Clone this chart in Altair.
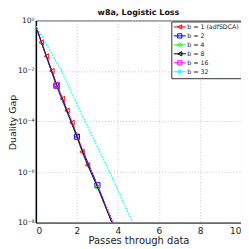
import altair as alt
import pandas as pd
import numpy as np

series = ["b = 1 (adfSDCA)", "b = 2", "b = 4", "b = 8", "b = 16", "b = 32"]
colors = ["#ff0000", "#0000ff", "#00ff00", "#000000", "#ff00ff", "#00ffff"]

# passes through data and log10(duality gap)
x_b1 = [0, 0.26, 0.52, 0.78, 1.04, 1.30, 1.52, 1.76, 2.00, 2.25, 2.52]
y_b1 = [-0.22, -0.87, -1.42, -2.00, -2.62, -3.10, -3.57, -4.05, -4.60, -5.20, -5.73]
x_b2 = [0, 1.0, 2.0, 3.0, 3.72]
y_b2 = [-0.22, -2.58, -4.6, -6.52, -8.0]
x_b4 = [0, 0.5, 1.0, 1.5, 2.0, 2.5, 3.0, 3.35, 3.72]
y_b4 = [-0.22, -1.42, -2.55, -3.55, -4.6, -5.7, -6.6, -7.3, -8.0]
x_b8 = [0, 0.5, 1.0, 1.5, 2.0, 2.5, 3.0, 3.35, 3.70]
y_b8 = [-0.22, -1.40, -2.52, -3.53, -4.58, -5.66, -6.58, -7.28, -8.0]
x_b16 = [0, 0.5, 1.03, 1.5, 2.0, 2.5, 3.0, 3.4, 3.77]
y_b16 = [-0.22, -1.37, -2.55, -3.47, -4.5, -5.6, -6.5, -7.3, -8.0]
x_b32 = [0, 1.25, 2.4, 3.6, 4.72]
y_b32 = [-0.22, -2.0, -4.0, -6.0, -8.0]

# which points carry a marker
m_b1 = list(range(1, 11))
m_b2 = [1, 2, 3]
m_b4 = [6]
m_b8 = []
m_b16 = [2]
m_b32 = []

xs = [x_b1, x_b2, x_b4, x_b8, x_b16, x_b32]
ys = [y_b1, y_b2, y_b4, y_b8, y_b16, y_b32]
ms = [m_b1, m_b2, m_b4, m_b8, m_b16, m_b32]
dashes = [None, None, None, None, [1.5, 1.5], [1.5, 1.5]]
widths = [1, 1, 1, 1, 1.2, 1.3]


def hexagram(cx, s):
    pts = []
    for k in range(12):
        a = np.pi / 2 + k * np.pi / 6
        r = s if k % 2 == 0 else s * 0.55
        pts.append((cx + r * np.cos(a), -r * np.sin(a)))
    return "M" + "L".join(f"{px:.3f},{py:.3f}" for px, py in pts) + "Z"


def tri_left(cx, s):
    return f"M{cx - s},0L{cx + s},{-s}L{cx + s},{s}Z"


def square(cx, s):
    return f"M{cx - s},{-s}L{cx + s},{-s}L{cx + s},{s}L{cx - s},{s}Z"


def diamond(cx, s):
    return f"M{cx - s},0L{cx},{-s}L{cx + s},0L{cx},{s}Z"


plot_shapes = ["triangle-left", "square", "diamond", "triangle-left", "square", hexagram(0, 1)]
mk = [tri_left, square, diamond, tri_left, square, hexagram]
legend_paths = ["M-1,0L3,0" + f(1, 0.7) for f in mk]

font = "DejaVu Sans"
xscale = alt.Scale(domain=[0, 10], nice=False)
yscale = alt.Scale(type="log", domain=[1e-8, 1], nice=False, clamp=False)

label_expr = ("'10' + (datum.value >= 0.5 ? '⁰' : datum.value >= 5e-3 ? '⁻²' : "
              "datum.value >= 5e-5 ? '⁻⁴' : datum.value >= 5e-7 ? '⁻⁶' : '⁻⁸')")

xaxis = alt.Axis(values=[0, 2, 4, 6, 8, 10], title="Passes through data", grid=True,
                 gridDash=[1, 2], gridColor="#c8c8c8", ticks=False, labelFontSize=9,
                 labelFont=font, titleFont=font, titleFontSize=10, titleFontWeight="normal",
                 titlePadding=0, labelPadding=4, domainColor="#444", labelColor="#222",
                 titleColor="#222")
yaxis = alt.Axis(values=[1e-8, 1e-6, 1e-4, 1e-2, 1], title="Duality Gap", grid=True,
                 gridDash=[1, 2], gridColor="#c8c8c8", ticks=False, labelFontSize=7.5,
                 labelFont=font, titleFont=font, titleFontSize=9.5, titleFontWeight="normal",
                 labelExpr=label_expr, titleX=-18, titleY=102, labelPadding=2,
                 domainColor="#000", domainWidth=1.5, labelColor="#222", titleColor="#222")

layers = []
for i, name in enumerate(series):
    df = pd.DataFrame({"x": xs[i], "gap": [10 ** v for v in ys[i]]})
    lk = dict(color=colors[i], strokeWidth=widths[i], clip=True)
    if dashes[i]:
        lk["strokeDash"] = dashes[i]
    line = alt.Chart(df).mark_line(**lk).encode(
        x=alt.X("x:Q", scale=xscale, axis=xaxis),
        y=alt.Y("gap:Q", scale=yscale, axis=yaxis),
    )
    layers.append(line)
    mdf = df.iloc[ms[i]] if ms[i] else df.iloc[0:0]
    if len(mdf):
        pts = alt.Chart(mdf).mark_point(shape=plot_shapes[i], filled=False, color=colors[i],
                                        size=26, strokeWidth=1, opacity=1, clip=True).encode(
            x=alt.X("x:Q", scale=xscale),
            y=alt.Y("gap:Q", scale=yscale),
        )
        layers.append(pts)

legend_df = pd.DataFrame({"series": series})
legend_layer = alt.Chart(legend_df).mark_point(filled=False, strokeWidth=1, opacity=1).encode(
    shape=alt.Shape("series:N", scale=alt.Scale(domain=series, range=legend_paths),
                    legend=alt.Legend(title=None)),
    color=alt.Color("series:N", scale=alt.Scale(domain=series, range=colors),
                    legend=alt.Legend(title=None)),
).transform_filter("false")
layers.append(legend_layer)

chart = alt.layer(*layers).properties(
    width=206, height=203,
    autosize=alt.AutoSizeParams(type="none"),
    padding={"left": 28, "top": 12, "right": 0, "bottom": 26},
    title=alt.TitleParams("w8a, Logistic Loss", font=font, fontSize=8, fontWeight="bold",
                          anchor="middle", offset=0, baseline="bottom", dy=9,
                          color="#111"),
).configure_view(stroke="#555", strokeWidth=1).configure_legend(
    orient="none", legendX=136, legendY=1, padding=2, strokeColor="#333", fillColor="white",
    symbolSize=36, symbolStrokeWidth=1, labelFont=font, labelFontSize=6.3, labelOffset=7,
    rowPadding=0, labelColor="#222", symbolType="circle", cornerRadius=0
)

chart.save("out.html", embed_options={"renderer": "svg", "actions": False})
